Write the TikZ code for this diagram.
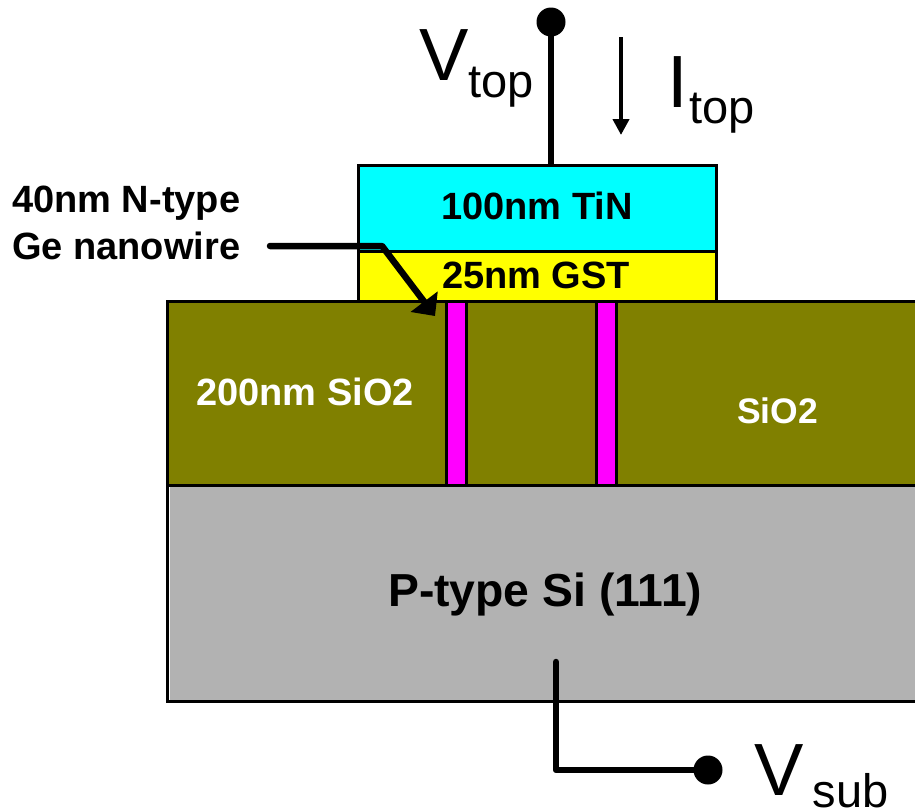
\documentclass[tikz,border=0pt]{standalone}
\usepackage{fontspec}
\setmainfont{Liberation Sans}
\usetikzlibrary{arrows.meta}
\definecolor{oxide}{HTML}{808000}
\definecolor{substrate}{HTML}{B2B2B2}
\definecolor{nitride}{HTML}{00FFFF}
\definecolor{gstfill}{HTML}{FFFF00}
\definecolor{nwfill}{HTML}{FF00FF}
\newcommand{\termlabel}[4]{{\fontsize{74}{74}\selectfont #1}\kern#3pt\raisebox{-#4pt}{\fontsize{47}{47}\selectfont #2}}

\begin{document}
\begin{tikzpicture}[
  x=1pt,y=-1pt,
  layer/.style={rectangle,draw=black,line width=3pt,inner sep=0pt},
  tag/.style={anchor=base west,inner sep=0pt,font=\bfseries\fontsize{38}{38}\selectfont},
  term/.style={anchor=base west,inner sep=0pt},
  terminal/.style={circle,fill=black,inner sep=0pt,minimum size=29pt},
  wire/.style={black,line width=6.5pt,line cap=round,line join=round},
  leader/.style={wire,-{Triangle[length=18pt,width=33pt]}},
  current/.style={black,line width=4.5pt,-{Triangle[length=16pt,width=16pt]}}
]
  \useasboundingbox (0,0) rectangle (915,809);

  % Substrate, with its thin pale gap along the left edge
  \node[layer,fill=white,minimum width=763pt,minimum height=216pt] (si) at (548.5,593) {};
  \fill[substrate] (170,487) rectangle (930,700);

  % Oxide and the two nanowires through it
  \node[layer,fill=oxide,minimum width=763pt,minimum height=184pt] (sio) at (548.5,393) {};
  \node[layer,fill=nwfill,minimum width=20pt,minimum height=184pt] (wire1) at (456.5,393) {};
  \node[layer,fill=nwfill,minimum width=20pt,minimum height=184pt] (wire2) at (606.5,393) {};

  % Stack on top
  \node[layer,fill=gstfill,minimum width=358pt,minimum height=50pt] (gst) at (537,276) {};
  \node[layer,fill=nitride,minimum width=358pt,minimum height=86pt] (tin) at (537,208) {};

  % Layer names
  \node[tag] (tintext) at (441,219) {100nm TiN};
  \node[tag] (gsttext) at (442,288) {25nm GST};
  \node[tag,text=white] (oxtext1) at (196,405) {200nm SiO2};
  \node[tag,text=white,font=\bfseries\fontsize{35.5}{35.5}\selectfont] (oxtext2) at (737,423) {SiO2};
  \node[tag,font=\bfseries\fontsize{46.3}{46.3}\selectfont] (sitext) at (388,606) {P-type Si (111)};
  \node[tag,align=left,anchor=north west] (nwtext) at (12,186) {40nm N-type\\[9pt]Ge nanowire};

  % Terminals
  \node[terminal] (top) at (551,22) {};
  \node[terminal] (sub) at (708,770) {};
  \coordinate (subin) at (556,662);
  \draw[wire] (top) -- (top|-tin.north);
  \draw[wire] (subin) |- (sub);

  % Terminal names
  \node[term] (vtop) at (419,80) {\termlabel{V}{top}{0}{17}};
  \node[term] (itop) at (667,107) {\termlabel{I}{top}{2}{16}};
  \node[term] (vsub) at (754,795) {\termlabel{V}{sub}{9}{12}};

  % Current direction
  \coordinate (ifrom) at (621,37);
  \coordinate (ito) at (621,135);
  \draw[current] (ifrom) -- (ito);

  % Pointer to the nanowire
  \coordinate (lstart) at (270,246);
  \coordinate (lbend) at (382,246);
  \coordinate (ltip) at (435,316);
  \draw[leader] (lstart) -- (lbend) -- (ltip);
\end{tikzpicture}
\end{document}
